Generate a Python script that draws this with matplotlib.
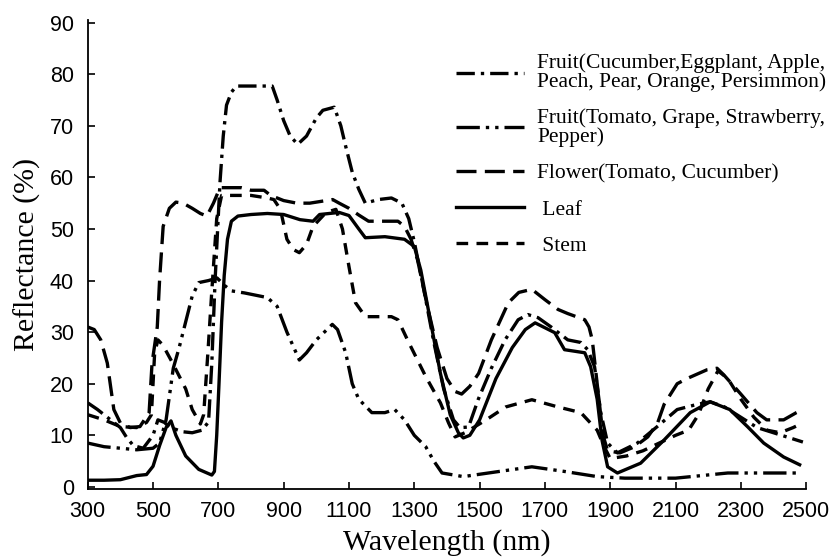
import matplotlib.pyplot as plt

# Fruit (Cucumber, Eggplant, Apple, Peach, Pear, Orange, Persimmon)
fruit_a_wl = [300, 330, 360, 400, 420, 440, 470, 500, 515, 535, 550, 590, 620,
              650, 670, 680, 690, 705, 715, 725, 740, 755, 800, 865, 880, 900,
              920, 943, 970, 1000, 1020, 1055, 1075, 1090, 1110, 1130, 1150,
              1190, 1230, 1262, 1283, 1300, 1330, 1360, 1390, 1420, 1440, 1466,
              1496, 1536, 1578, 1618, 1648, 1679, 1719, 1770, 1810, 1831, 1852,
              1871, 1892, 1922, 1983, 2044, 2105, 2166, 2206, 2250, 2300, 2350,
              2400, 2450, 2490]
fruit_a_refl = [16.3, 15, 13.5, 11.5, 9.5, 8, 7.5, 10, 13, 12.5, 11.6, 10.7, 10.5,
                11, 12.6, 24, 40, 59, 68, 74, 76.5, 77.7, 77.7, 77.7, 75, 71,
                68, 66.4, 68, 71.5, 73, 73.6, 70, 66, 61, 57.7, 55,
                55.7, 56, 55, 52, 47.5, 38, 28, 19, 13, 11.5, 11.6,
                17, 23, 28.5, 32.4, 33.4, 32.8, 31, 28.5, 28, 26.6, 23.3,
                14.4, 8.5, 6.6, 8.5, 11.7, 15, 16, 16.5, 15.5, 13.5, 11.5,
                10.5, 9.5, 8.7]

# Fruit (Tomato, Grape, Strawberry, Pepper)
fruit_b_wl = [300, 350, 400, 450, 500, 520, 540, 562, 580, 604, 620, 640, 670,
              696, 720, 740, 780, 850, 880, 910, 948, 970, 1000, 1049, 1065,
              1090, 1110, 1130, 1170, 1210, 1240, 1270, 1300, 1335, 1360, 1385,
              1450, 1560, 1660, 1760, 1860, 1945, 2100, 2260, 2480]
fruit_b_refl = [8.5, 7.8, 7.5, 7.2, 7.5, 8.5, 13, 23, 27, 33, 37, 39.6, 40,
                40.5, 39, 38, 37.6, 36.7, 35, 30, 24.6, 26, 28.5, 31.5, 30.5,
                26, 20, 17, 14.4, 14.4, 15, 13, 10, 7.8, 5, 2.7,
                2, 3, 3.9, 3, 2, 1.7, 1.7, 2.7, 2.7]

# Flower (Tomato, Cucumber)
flower_wl = [300, 320, 340, 360, 380, 400, 430, 460, 488, 497, 513, 520, 531,
             550, 570, 592, 620, 645, 665, 685, 705, 730, 770, 800, 840, 860,
             900, 940, 980, 1050, 1070, 1100, 1130, 1160, 1200, 1250, 1270,
             1290, 1310, 1340, 1370, 1400, 1425, 1445, 1470, 1497, 1536, 1588,
             1620, 1660, 1700, 1740, 1770, 1822, 1835, 1845, 1860, 1878, 1892,
             1930, 1975, 2015, 2045, 2065, 2105, 2135, 2196, 2227, 2248, 2297,
             2349, 2379, 2431, 2470, 2490]
flower_refl = [31, 30.5, 28.5, 24, 15, 12.4, 11.5, 11.7, 14.4, 24, 31, 40, 50.5,
               54, 55.2, 55, 54, 53, 52.5, 55, 58, 58, 58, 57.5, 57.5, 56.5,
               55.5, 55, 55, 55.7, 55, 54, 52.7, 51.5, 51.5, 51.5, 50.5,
               48, 44, 35, 27, 21, 18.5, 18, 19.5, 22, 28.5, 35.7,
               37.7, 38.3, 36.3, 34.4, 33.6, 32.4, 31, 28.5, 20, 10, 7,
               6.6, 7.8, 9.7, 12.4, 16, 20, 21, 22.7, 23, 21.7, 18.2,
               14.4, 13, 13, 14.4, 15]

# Leaf
leaf_wl = [300, 350, 400, 450, 480, 500, 520, 540, 555, 570, 600, 640, 680,
           688, 695, 702, 710, 718, 728, 740, 760, 800, 850, 900, 950, 990,
           1010, 1070, 1100, 1130, 1150, 1210, 1270, 1300, 1320, 1350, 1380,
           1410, 1435, 1450, 1470, 1500, 1550, 1600, 1640, 1670, 1730, 1760,
           1822, 1840, 1860, 1875, 1892, 1922, 1993, 2065, 2145, 2206, 2266,
           2320, 2370, 2431, 2480]
leaf_refl = [1.3, 1.3, 1.4, 2.2, 2.4, 4, 8, 11.5, 12.8, 10, 6, 3.4, 2.3,
             3, 10, 20, 32, 41, 48, 51.5, 52.5, 52.8, 53, 52.8, 51.8, 51.5,
             52.8, 53.2, 52.6, 50, 48.3, 48.5, 48, 46.6, 42, 32, 22,
             14, 10.5, 9.5, 10, 13, 21, 27, 30.5, 31.8, 29.9, 26.6,
             26, 23.3, 17, 9, 3.9, 2.7, 4.6, 9.1, 14.4, 16.5, 15,
             11.7, 8.5, 5.8, 4.3]

# Stem
stem_wl = [300, 350, 400, 450, 480, 495, 505, 515, 530, 560, 580, 600, 620,
           645, 655, 668, 680, 695, 710, 730, 800, 850, 870, 890, 910, 930,
           948, 970, 990, 1030, 1060, 1080, 1100, 1120, 1150, 1230, 1250,
           1283, 1335, 1380, 1405, 1425, 1455, 1520, 1580, 1660, 1740, 1810,
           1860, 1880, 1900, 1950, 2000, 2050, 2100, 2140, 2170, 2200, 2230,
           2260, 2300, 2340, 2380, 2420, 2460, 2490]
stem_refl = [14, 13, 11.7, 11.5, 12.5, 14, 26, 28.5, 27.5, 24, 21.5, 19, 15,
             12.2, 14, 26, 38, 52, 56.5, 56.5, 56.5, 56, 55.7, 53.8, 48, 46,
             45.4, 47, 50.5, 53.2, 53.8, 50, 42.7, 35.7, 33, 33, 32.4,
             28, 21.4, 16.3, 12.4, 9.7, 10.5, 13, 15.5, 16.9, 15.5, 14.4,
             11, 8, 5.5, 6, 7, 8.5, 10, 11, 14, 19, 22.5,
             21, 17, 13.5, 11, 10.5, 11.5, 12.4]

labels = [
    "Fruit(Cucumber,Eggplant, Apple,\nPeach, Pear, Orange, Persimmon)",
    "Fruit(Tomato, Grape, Strawberry,\nPepper)",
    "Flower(Tomato, Cucumber)",
    " Leaf",
    " Stem",
]
x_ticks = list(range(300, 2501, 200))
y_ticks = list(range(0, 91, 10))

SERIF = "Liberation Serif"
LW = 2.4

plt.rcParams["font.family"] = ["Liberation Sans", "DejaVu Sans"]

fig = plt.figure(figsize=(8.33, 5.57), dpi=100)
ax = fig.add_axes([0.1053, 0.1221, 0.8625, 0.842])

series = [
    (fruit_a_wl, fruit_a_refl, (5.5, 1.8, 1.0, 1.8)),
    (fruit_b_wl, fruit_b_refl, (7.0, 1.8, 1.0, 1.8, 1.0, 1.8)),
    (flower_wl, flower_refl, (6.0, 2.5)),
    (leaf_wl, leaf_refl, None),
    (stem_wl, stem_refl, (3.5, 2.5)),
]
for (wl, refl, dashes), label in zip(series, labels):
    line, = ax.plot(wl, refl, color="black", lw=LW, label=label,
                    solid_joinstyle="round", dash_joinstyle="round")
    if dashes:
        line.set_dashes(dashes)

ax.set_xlim(300, 2500)
ax.set_ylim(-0.4, 90.5)
ax.set_xticks(x_ticks)
ax.set_yticks(y_ticks)
ax.spines["top"].set_visible(False)
ax.spines["right"].set_visible(False)
for side in ("left", "bottom"):
    ax.spines[side].set_linewidth(1.3)
ax.tick_params(direction="in", length=5, width=1.2, labelsize=15.5)
ax.tick_params(axis="y", pad=10)
ax.tick_params(axis="x", pad=9)

ax.set_xlabel("Wavelength (nm)", fontfamily=SERIF, fontsize=21.5, labelpad=5)
ax.set_ylabel("Reflectance (%)", fontfamily=SERIF, fontsize=21.5, labelpad=6)

leg = ax.legend(loc="upper left", bbox_to_anchor=(0.512, 0.928), frameon=False,
                prop={"family": SERIF, "size": 15.5}, handlelength=3.2,
                handletextpad=0.6, labelspacing=0.75, borderpad=0,
                borderaxespad=0)
for t in leg.get_texts():
    t.set_linespacing(0.95)

fig.savefig("out.png", dpi=100)
